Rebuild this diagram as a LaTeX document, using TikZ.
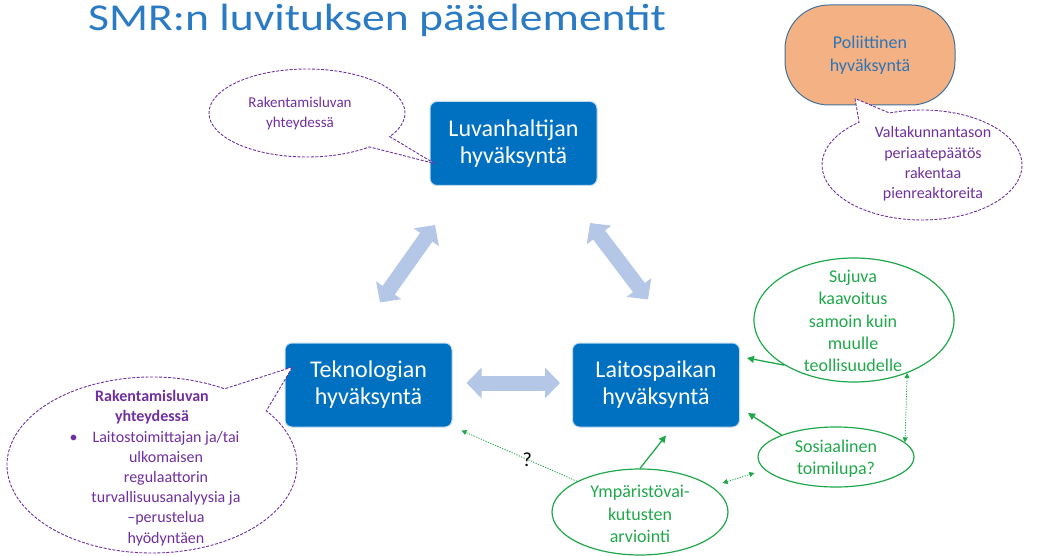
\documentclass[tikz,border=0pt]{standalone}
\usepackage{fontspec}
\setmainfont{Carlito}
\usetikzlibrary{shapes.geometric,shapes.callouts,arrows.meta,calc}
\definecolor{boxblue}{HTML}{0070C0}
\definecolor{titleblue}{HTML}{2A7BC4}
\definecolor{lightarrow}{HTML}{B4C7E7}
\definecolor{callpurple}{HTML}{7030A0}
\definecolor{ggreen}{HTML}{1FA84A}
\definecolor{polfill}{HTML}{F4B183}
\definecolor{polborder}{HTML}{41719C}
\definecolor{poltext}{HTML}{2E75B6}
\begin{document}
\begin{tikzpicture}[x=1pt,y=-1pt,
  bluebox/.style={rectangle, rounded corners=7pt, fill=boxblue, draw=boxblue!25, line width=1pt,
    text=white, minimum width=167pt, minimum height=84pt, align=center, inner sep=0pt,
    font=\fontsize{24}{27}\selectfont},
  bigarrow/.style={draw=lightarrow, line width=15pt,
    {Triangle[width=30pt,length=15pt]}-{Triangle[width=30pt,length=15pt]}},
  pcallout/.style={ellipse callout, draw=callpurple, dash pattern=on 3pt off 1.5pt, fill=white,
    line width=0.9pt, inner sep=0pt, callout pointer arc=18},
  ptext/.style={text=callpurple, align=center, inner sep=0pt},
  gell/.style={ellipse, draw=ggreen, line width=1.2pt, inner sep=0pt},
  gtext/.style={text=ggreen, align=center, inner sep=0pt, font=\fontsize{18}{22.3}\selectfont},
  garrow/.style={draw=ggreen, line width=1.3pt, -{Triangle[length=7pt,width=7pt]}},
  gdot/.style={draw=ggreen, line width=0.8pt, dash pattern=on 1.3pt off 1.3pt},
  gdotboth/.style={gdot, {Triangle[length=5pt,width=5pt]}-{Triangle[length=5pt,width=5pt]}},
  gdotone/.style={gdot, -{Triangle[length=5pt,width=5pt]}},
  qlabel/.style={text=black, inner sep=0pt, font=\fontsize{20}{22}\selectfont}
]
\useasboundingbox (0,0) rectangle (1045,556);

% title
\node[anchor=base west, inner sep=0pt, text=titleblue, xscale=1.2,
  font=\fontsize{38}{44}\selectfont] (title) at (88,31) {SMR:n luvituksen pääelementit};

% main boxes
\node[bluebox] (lup) at (513.5,143.5) {Luvanhaltijan\\hyväksyntä};
\node[bluebox] (tek) at (368.5,385) {Teknologian\\hyväksyntä};
\node[bluebox] (lai) at (656,385) {Laitospaikan\\hyväksyntä};

% big double arrows
\draw[bigarrow] ($(tek.north)+(11.5,-40)$) -- ($(lup.south)+(-78.5,39)$);
\draw[bigarrow] ($(lup.south)+(76.5,37)$) -- ($(lai.north)+(-8,-43)$);
\draw[bigarrow] ($(tek.east)+(14,-2)$) -- ($(lai.west)+(-12,-2)$);

% purple callouts
\node[pcallout, minimum width=196pt, minimum height=88pt,
  callout absolute pointer={($(lup.west)+(5,20)$)}] (c1) at (307,113) {};
\node[ptext, font=\fontsize{15}{20}\selectfont] (c1t) at (300,114) {Rakentamisluvan\\yhteydessä};

\node[pcallout, minimum width=290pt, minimum height=176pt, callout pointer arc=22,
  callout absolute pointer={($(tek.west)+(8,-18)$)}] (c3) at (152,465) {};
\node[ptext, font=\fontsize{16}{20.2}\selectfont] (c3t) at (152,468) {\textbf{Rakentamisluvan}\\\textbf{yhteydessä}\\
  \makebox[28pt][l]{\hspace{5pt}•}Laitostoimittajan ja/tai\\
  \hspace*{28pt}ulkomaisen\\
  \hspace*{28pt}regulaattorin\\
  \hspace*{28pt}turvallisuusanalyysia ja\\
  \hspace*{28pt}–perustelua\\
  \hspace*{28pt}hyödyntäen};

% political approval
\node[rectangle, rounded corners=44pt, fill=polfill, draw=polborder, line width=1pt,
  minimum width=170pt, minimum height=100pt, text=poltext, align=center,
  font=\fontsize{18}{23}\selectfont] (pol) at (870,55) {Poliittinen\\hyväksyntä};
\node[pcallout, minimum width=200pt, minimum height=110pt, callout pointer arc=20,
  callout absolute pointer={($(pol.south)+(-15,-7)$)}] (c2) at (922,165) {};
\node[ptext, font=\fontsize{16}{20.3}\selectfont] (c2t) at (933,164) {Valtakunnantason\\periaatepäätös\\rakentaa\\pienreaktoreita};

% green ellipses
\node[gell, minimum width=200pt, minimum height=124pt] (suj) at (854,320) {};
\node[gtext] (sujt) at (853,321) {Sujuva\\kaavoitus\\samoin kuin\\muulle\\teollisuudelle};
\node[gell, minimum width=156pt, minimum height=60pt] (sos) at (836,457) {};
\node[gtext] (sost) at (836,459) {Sosiaalinen\\toimilupa?};
\node[gell, minimum width=176pt, minimum height=86pt] (ymp) at (640,512) {};
\node[gtext] (ympt) at (640,514) {Ympäristövai-\\kutusten\\arviointi};

% green arrows
\draw[garrow] (suj.213) -- ($(lai.east)+(7,-27)$);
\draw[garrow] (sos.158) -- ($(lai.east)+(8,28)$);
\draw[garrow] (ymp.north) -- ($(lai.south)+(10,8)$);

% dotted connectors
\draw[gdotboth] (suj.-45.5) -- (sos.12);
\draw[gdotboth] ($(ymp.east)+(-6,-29)$) -- ($(sos.west)+(-3,16)$);
\draw[gdotone] (ymp.154.5) -- node[qlabel, pos=0.43] (q) {?} ($(tek.south east)+(9,3)$);
\end{tikzpicture}
\end{document}
